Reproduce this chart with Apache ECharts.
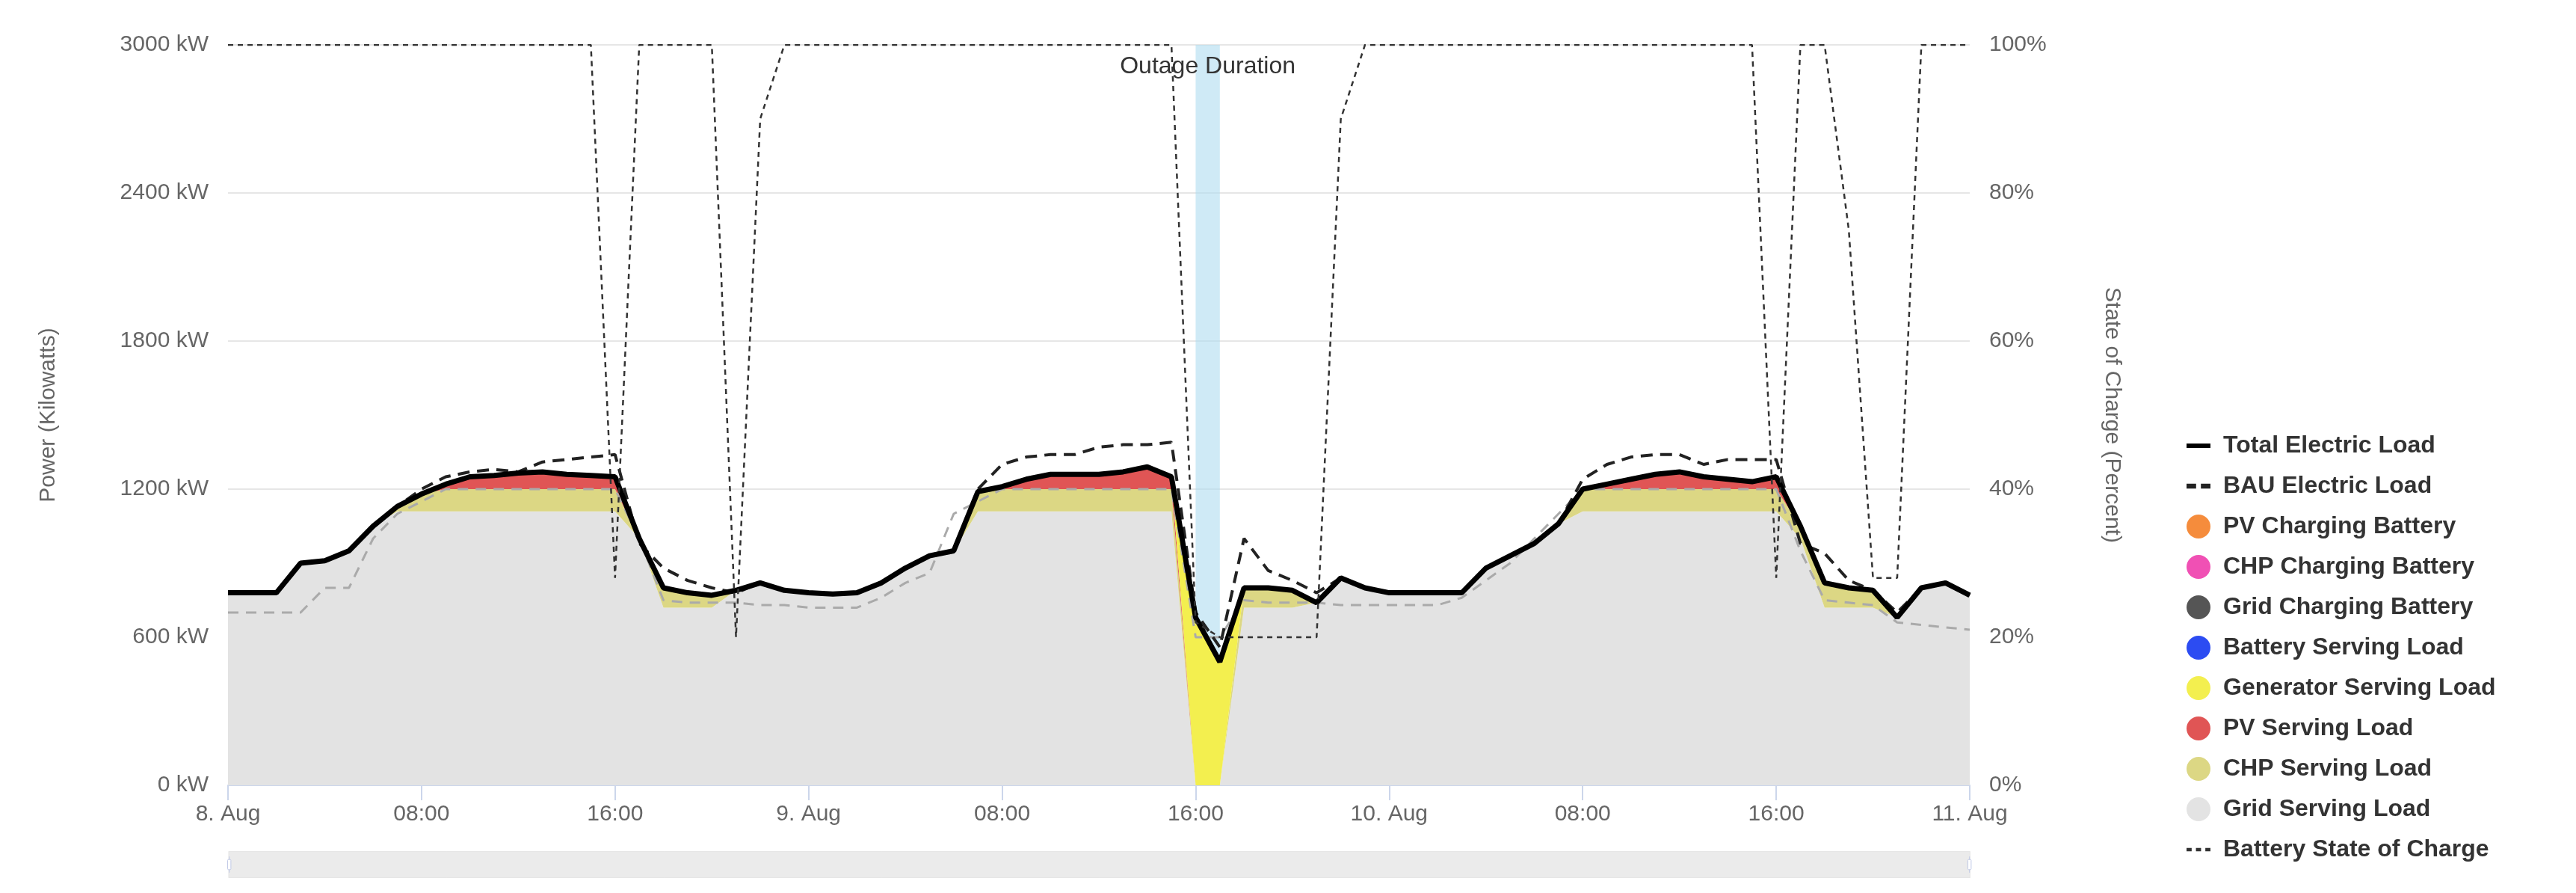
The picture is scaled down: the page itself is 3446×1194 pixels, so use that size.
<!DOCTYPE html>
<html>
<head>
<meta charset="utf-8">
<script src="https://cdn.jsdelivr.net/npm/echarts@6/dist/echarts.min.js"></script>
<style>html,body{margin:0;background:#fff}#chart{width:3446px;height:1194px}</style>
</head>
<body>
<div id="chart"></div>
<script>
// hourly, 8 Aug 00:00 .. 11 Aug 00:00
const days = ['8. Aug', '9. Aug', '10. Aug', '11. Aug']
const hours = []
for (let d = 0; d < 3; d++) for (let h = 0; h < 24; h++) hours.push(h === 0 ? days[d] : (h < 10 ? '0' : '') + h + ':00')
hours.push(days[3])

const totalLoad = [
  780, 780, 780, 900, 910, 950, 1050, 1130, 1180, 1220, 1250, 1255, 1265, 1270, 1260, 1255, 1250, 1000, 800, 780, 770, 790, 820, 790,
  780, 775, 780, 820, 880, 930, 950, 1190, 1210, 1240, 1260, 1260, 1260, 1270, 1290, 1250, 680, 500, 800, 800, 790, 740, 840, 800,
  780, 780, 780, 780, 880, 930, 980, 1060, 1200, 1220, 1240, 1260, 1270, 1250, 1240, 1230, 1250, 1050, 820, 800, 790, 680, 800, 820, 770
]
const bauLoad = [
  780, 780, 780, 900, 910, 950, 1050, 1130, 1200, 1250, 1270, 1280, 1270, 1310, 1320, 1330, 1340, 980, 880, 830, 800, 780, 820, 790,
  780, 775, 780, 820, 880, 930, 950, 1200, 1300, 1330, 1340, 1340, 1370, 1380, 1380, 1390, 700, 560, 1000, 870, 830, 780, 840, 800,
  780, 780, 780, 780, 880, 930, 980, 1060, 1240, 1300, 1330, 1340, 1340, 1300, 1320, 1320, 1320, 980, 940, 830, 790, 700, 800, 820, 770
]
const gridServing = [
  780, 780, 780, 900, 910, 950, 1050, 1110, 1110, 1110, 1110, 1110, 1110, 1110, 1110, 1110, 1110, 1000, 720, 720, 720, 790, 820, 790,
  780, 775, 780, 820, 880, 930, 950, 1110, 1110, 1110, 1110, 1110, 1110, 1110, 1110, 1110, 0, 0, 720, 720, 720, 740, 840, 800,
  780, 780, 780, 780, 880, 930, 980, 1060, 1110, 1110, 1110, 1110, 1110, 1110, 1110, 1110, 1110, 1000, 720, 720, 720, 680, 800, 820, 770
]
const chpServing = [
  0, 0, 0, 0, 0, 0, 0, 20, 70, 90, 90, 90, 90, 90, 90, 90, 90, 0, 80, 60, 50, 0, 0, 0,
  0, 0, 0, 0, 0, 0, 0, 80, 90, 90, 90, 90, 90, 90, 90, 90, 0, 0, 80, 80, 70, 0, 0, 0,
  0, 0, 0, 0, 0, 0, 0, 0, 90, 90, 90, 90, 90, 90, 90, 90, 90, 50, 100, 80, 70, 0, 0, 0, 0
]
const pvServing = [
  0, 0, 0, 0, 0, 0, 0, 0, 0, 20, 50, 55, 65, 70, 60, 55, 50, 0, 0, 0, 0, 0, 0, 0,
  0, 0, 0, 0, 0, 0, 0, 0, 10, 40, 60, 60, 60, 70, 90, 50, 0, 0, 0, 0, 0, 0, 0, 0,
  0, 0, 0, 0, 0, 0, 0, 0, 0, 20, 40, 60, 70, 50, 40, 30, 50, 0, 0, 0, 0, 0, 0, 0, 0
]
const genServing = hours.map((h, i) => (i === 40 ? 680 : i === 41 ? 500 : 0))
const zeros = hours.map(() => 0)
const gridDashed = [
  700, 700, 700, 700, 800, 800, 1000, 1100, 1150, 1200, 1200, 1200, 1200, 1200, 1200, 1200, 1200, 1000, 750, 740, 740, 740, 730, 730,
  720, 720, 720, 760, 820, 860, 1100, 1150, 1200, 1200, 1200, 1200, 1200, 1200, 1200, 1200, 600, 600, 750, 740, 740, 740, 730, 730,
  730, 730, 730, 760, 830, 900, 1000, 1100, 1200, 1200, 1200, 1200, 1200, 1200, 1200, 1200, 1200, 950, 750, 740, 730, 660, 650, 640, 630
]
const soc = [
  100, 100, 100, 100, 100, 100, 100, 100, 100, 100, 100, 100, 100, 100, 100, 100, 28, 100, 100, 100, 100, 20, 90, 100,
  100, 100, 100, 100, 100, 100, 100, 100, 100, 100, 100, 100, 100, 100, 100, 100, 22, 20, 20, 20, 20, 20, 90, 100,
  100, 100, 100, 100, 100, 100, 100, 100, 100, 100, 100, 100, 100, 100, 100, 100, 28, 100, 100, 75, 28, 28, 100, 100, 100
]

const font = 'Liberation Sans'
const myChart = echarts.init(document.getElementById('chart'))

function area (name, data, color) {
  return {
    name, type: 'line', stack: 'load', data, symbol: 'none',
    lineStyle: { width: 0 }, itemStyle: { color }, areaStyle: { color, opacity: 1 }
  }
}

const options = {
  animation: false,
  textStyle: { fontFamily: font },
  grid: { left: 305, right: 811, top: 60, bottom: 144 },
  legend: {
    orient: 'vertical', left: 2920, top: 575, itemGap: 22, itemWidth: 32, itemHeight: 32,
    textStyle: { fontSize: 32, color: '#333', fontWeight: 'bold', padding: [0, 0, 0, 12] },
    data: [
      { name: 'Total Electric Load', icon: 'path://M0,13 H32 V19 H0 Z' },
      { name: 'BAU Electric Load', icon: 'path://M0,13 H12 V19 H0 Z M18,13 H30 V19 H18 Z' },
      { name: 'PV Charging Battery', icon: 'circle' },
      { name: 'CHP Charging Battery', icon: 'circle' },
      { name: 'Grid Charging Battery', icon: 'circle' },
      { name: 'Battery Serving Load', icon: 'circle' },
      { name: 'Generator Serving Load', icon: 'circle' },
      { name: 'PV Serving Load', icon: 'circle' },
      { name: 'CHP Serving Load', icon: 'circle' },
      { name: 'Grid Serving Load', icon: 'circle' },
      { name: 'Battery State of Charge', icon: 'path://M0,14 H6 V18 H0 Z M11,14 H17 V18 H11 Z M22,14 H28 V18 H22 Z' }
    ]
  },
  xAxis: {
    type: 'category', data: hours, boundaryGap: false,
    axisLine: { lineStyle: { color: '#ccd6eb', width: 2 } },
    axisTick: { interval: 7, length: 20, lineStyle: { color: '#ccd6eb', width: 2 } },
    axisLabel: { interval: 7, fontSize: 30, color: '#666', margin: 24 }
  },
  yAxis: [
    {
      type: 'value', min: 0, max: 3000, interval: 600,
      name: 'Power (Kilowatts)', nameLocation: 'middle', nameGap: 225, nameRotate: 90,
      nameTextStyle: { fontSize: 30, color: '#666' },
      axisLabel: { formatter: v => v + ' kW', fontSize: 30, color: '#666', margin: 26 },
      splitLine: { lineStyle: { color: '#e6e6e6', width: 2 } }
    },
    {
      type: 'value', min: 0, max: 100, interval: 20,
      name: 'State of Charge (Percent)', nameLocation: 'middle', nameGap: 175, nameRotate: -90,
      nameTextStyle: { fontSize: 30, color: '#666' },
      axisLabel: { formatter: v => v + '%', fontSize: 30, color: '#666', margin: 26 },
      splitLine: { show: false }
    }
  ],
  dataZoom: [{
    type: 'slider', start: 0, end: 100, left: 305, right: 811, bottom: 20, height: 36,
    showDetail: false, showDataShadow: false, borderColor: '#e6e6e6', backgroundColor: '#f2f2f2',
    fillerColor: 'rgba(230,230,230,0.6)', handleSize: '60%', moveHandleSize: 0
  }],
  series: [
    area('Grid Serving Load', gridServing, '#e3e3e3'),
    area('CHP Serving Load', chpServing, '#dcd784'),
    area('PV Serving Load', pvServing, '#e05555'),
    area('Generator Serving Load', genServing, '#f3ef4f'),
    area('Battery Serving Load', zeros, '#2c4cf2'),
    area('Grid Charging Battery', zeros, '#555555'),
    area('CHP Charging Battery', zeros, '#f050b4'),
    area('PV Charging Battery', zeros, '#f58c3c'),
    {
      name: 'Grid Dashed', type: 'line', data: gridDashed, symbol: 'none',
      lineStyle: { color: '#aaa', width: 3, type: [14, 10] }, z: 3
    },
    {
      name: 'BAU Electric Load', type: 'line', data: bauLoad, symbol: 'none',
      itemStyle: { color: '#222' }, lineStyle: { color: '#222', width: 4, type: [16, 10] }, z: 4
    },
    {
      name: 'Total Electric Load', type: 'line', data: totalLoad, symbol: 'none',
      itemStyle: { color: '#000' }, lineStyle: { color: '#000', width: 7 }, z: 5,
      markArea: {
        silent: true,
        itemStyle: { color: 'rgba(175,220,240,0.6)' },
        label: { show: true, position: 'top', distance: -45, fontSize: 32, color: '#333' },
        data: [[{ name: 'Outage Duration', xAxis: 40 }, { xAxis: 41 }]]
      }
    },
    {
      name: 'Battery State of Charge', type: 'line', yAxisIndex: 1, data: soc, symbol: 'none',
      itemStyle: { color: '#333' }, lineStyle: { color: '#333', width: 2.5, type: [7, 6] }, z: 6
    }
  ]
}
myChart.setOption(options)
</script>
</body>
</html>
